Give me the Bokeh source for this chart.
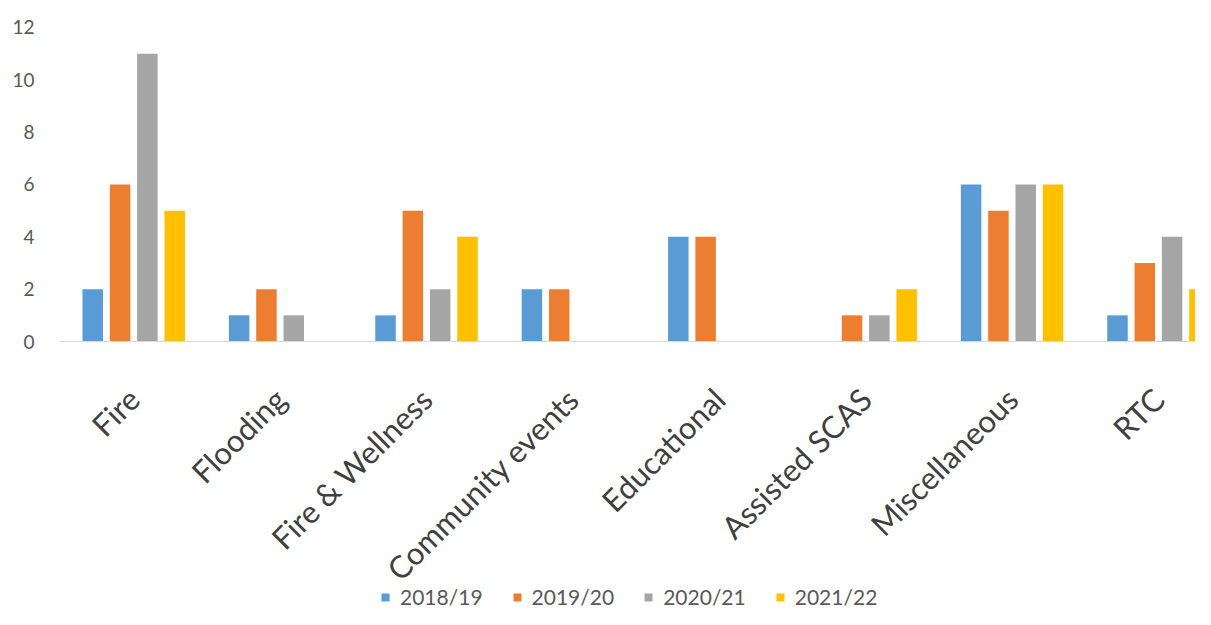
import math
from bokeh.plotting import figure
from bokeh.models import ColumnDataSource, Range1d, FixedTicker, Legend, LegendItem
from bokeh.transform import dodge
from bokeh.embed import file_html
from bokeh.resources import INLINE

categories = ["Fire", "Flooding", "Fire & Wellness", "Community events",
              "Educational", "Assisted SCAS", "Miscellaneous", "RTC"]
seasons = ["2018/19", "2019/20", "2020/21", "2021/22"]
v_2018_19 = [2, 1, 1, 2, 4, 0, 6, 1]
v_2019_20 = [6, 2, 5, 2, 4, 1, 5, 3]
v_2020_21 = [11, 1, 2, 0, 0, 1, 6, 4]
v_2021_22 = [5, 0, 4, 0, 0, 2, 6, 2]
y_ticks = [0, 2, 4, 6, 8, 10, 12]

colors = ["#5B9BD5", "#ED7D31", "#A5A5A5", "#FFC000"]

src = ColumnDataSource(dict(
    x=list(range(len(categories))),
    s0=v_2018_19, s1=v_2019_20, s2=v_2020_21, s3=v_2021_22,
))

p = figure(width=1195, height=609, output_backend="svg", toolbar_location=None,
           x_range=Range1d(-0.507, 7.253), y_range=Range1d(-10.24, 13.03),
           min_border_left=59, min_border_right=0, min_border_top=0,
           min_border_bottom=0)

step = 0.1866
bw = 0.14
renderers = []
for i, (col, c) in enumerate(zip(["s0", "s1", "s2", "s3"], colors)):
    r = p.vbar(x=dodge("x", (i - 1.5) * step, range=p.x_range), top=col, width=bw,
               source=src, fill_color=c, line_color=None)
    renderers.append(r)

p.xgrid.visible = False
p.ygrid.visible = False
p.outline_line_color = None
p.background_fill_color = "white"
p.border_fill_color = "white"

xa = p.xaxis[0]
xa.fixed_location = 0
xa.ticker = FixedTicker(ticks=list(range(len(categories))))
xa.major_label_overrides = {i: c for i, c in enumerate(categories)}
xa.major_label_orientation = math.pi / 4
xa.major_label_text_font = "Lato"
xa.major_label_text_font_size = "31px"
xa.major_label_text_color = "#404040"
xa.major_label_standoff = 46
xa.axis_line_color = "#D9D9D9"
xa.axis_line_width = 1
xa.major_tick_line_color = None
xa.minor_tick_line_color = None

ya = p.yaxis[0]
ya.ticker = FixedTicker(ticks=y_ticks)
ya.major_label_text_font = "Lato"
ya.major_label_text_font_size = "19px"
ya.major_label_text_color = "#595959"
ya.axis_line_color = None
ya.major_tick_line_color = None
ya.minor_tick_line_color = None
ya.major_label_standoff = 19

legend = Legend(items=[LegendItem(label=s, renderers=[r]) for s, r in zip(seasons, renderers)],
                location=(321, 0), orientation="horizontal",
                label_text_font="Lato", label_text_font_size="21px",
                label_text_color="#595959", glyph_width=10, glyph_height=10,
                label_height=18, label_standoff=10, spacing=29, padding=0, margin=0,
                border_line_color=None, background_fill_alpha=0)
p.add_layout(legend, "center")

open("out.html", "w").write(file_html(p, INLINE))
